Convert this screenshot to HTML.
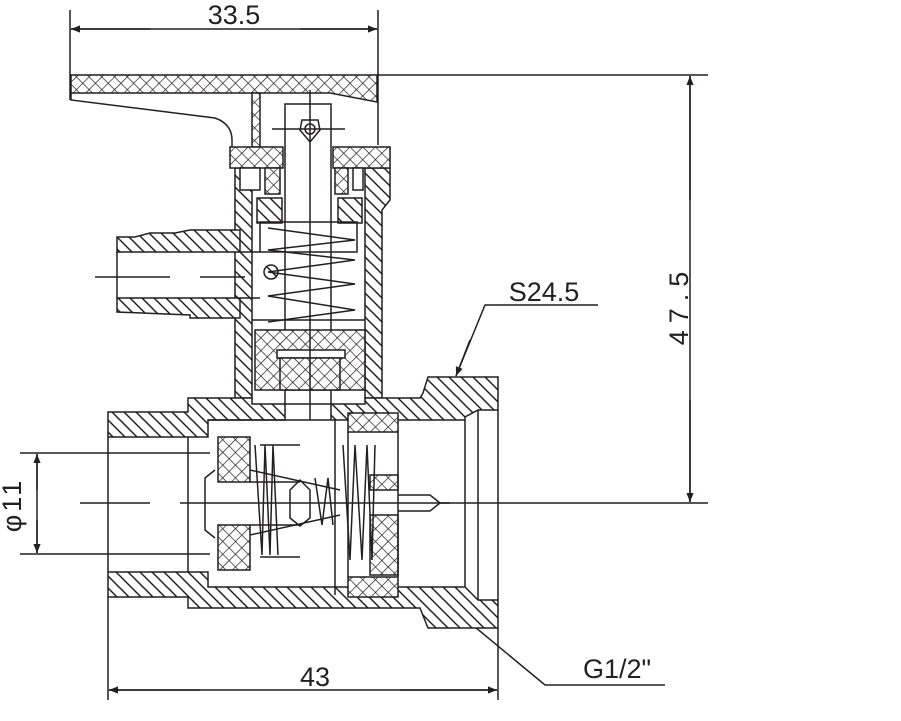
<!DOCTYPE html>
<html><head><meta charset="utf-8"><style>
html,body{margin:0;padding:0;background:#fff;}
svg{display:block;}
text{font-family:"Liberation Sans",sans-serif;fill:#231f20;}
</style></head><body>
<svg width="901" height="721" viewBox="0 0 901 721" xmlns="http://www.w3.org/2000/svg">
<defs>
<pattern id="h" width="12" height="12" patternUnits="userSpaceOnUse">
<rect width="12" height="12" fill="#fff"/><path d="M0,0 L12,12 M-6,6 L6,18 M6,-6 L18,6" stroke="#231f20" stroke-width="1.5"/></pattern>
<pattern id="x" width="9" height="9" patternUnits="userSpaceOnUse" patternTransform="rotate(45)">
<rect width="9" height="9" fill="#fff"/><line x1="0" y1="0" x2="0" y2="9" stroke="#231f20" stroke-width="1.4"/><line x1="0" y1="0" x2="9" y2="0" stroke="#231f20" stroke-width="1.4"/></pattern>
<marker id="a" viewBox="0 0 10 10" refX="10" refY="5" markerWidth="30" markerHeight="9" markerUnits="userSpaceOnUse" orient="auto"><path d="M0,1 L10,5 L0,9 Z" fill="#231f20"/></marker>
</defs>
<g stroke="#231f20" stroke-width="1.5" fill="none">
<line x1="70" y1="10" x2="70" y2="100"/>
<line x1="378" y1="10" x2="378" y2="145"/>
<line x1="150" y1="29" x2="71" y2="29" marker-end="url(#a)"/>
<line x1="300" y1="29" x2="377" y2="29" marker-end="url(#a)"/>
<line x1="71" y1="29" x2="377" y2="29"/>
<line x1="378" y1="75" x2="708" y2="75"/>
<line x1="440" y1="503" x2="708" y2="503"/>
<line x1="690" y1="200" x2="690" y2="76" marker-end="url(#a)"/>
<line x1="690" y1="400" x2="690" y2="502" marker-end="url(#a)"/>
<line x1="690" y1="76" x2="690" y2="502"/>
<line x1="20" y1="453" x2="210" y2="453"/>
<line x1="20" y1="554" x2="210" y2="554"/>
<line x1="37" y1="490" x2="37" y2="454" marker-end="url(#a)"/>
<line x1="37" y1="520" x2="37" y2="553" marker-end="url(#a)"/>
<line x1="37" y1="454" x2="37" y2="553"/>
<line x1="108" y1="597" x2="108" y2="700"/>
<line x1="498" y1="628" x2="498" y2="700"/>
<line x1="200" y1="690" x2="109" y2="690" marker-end="url(#a)"/>
<line x1="400" y1="690" x2="497" y2="690" marker-end="url(#a)"/>
<line x1="109" y1="690" x2="497" y2="690"/>
<polyline points="598,305 485,305 456,376"/>
<line x1="470" y1="340" x2="456" y2="376" marker-end="url(#a)"/>
<polyline points="665,685 545,685 440,598"/>
<line x1="470" y1="623" x2="440" y2="598" marker-end="url(#a)"/>

<path d="M71,75 L377,75 L377,102 L330,93 L71,93 Z" fill="url(#x)"/>
<path d="M71,93 L71,100 L215,118 Q232,124 232,140 L232,147"/>
<rect x="252" y="93" width="8" height="54" fill="url(#x)"/>
<rect x="285" y="104" width="46" height="300" fill="#fff"/>
<polygon points="302,120 318,120 320,130 310,142 300,130" />
<circle cx="310" cy="129" r="5"/>
<line x1="272" y1="129" x2="345" y2="129"/>
<path d="M235,168 L252,168 L252,398 L235,398 Z" fill="url(#h)"/>
<path d="M365,168 L390,168 L390,200 L382,210 L382,398 L365,398 Z" fill="url(#h)"/>
<rect x="230" y="147" width="53" height="21" fill="url(#x)"/>
<rect x="333" y="147" width="57" height="21" fill="url(#x)"/>
<rect x="240" y="168" width="20" height="22" fill="#fff"/>
<rect x="353" y="168" width="10" height="22" fill="#fff"/>
<rect x="265" y="168" width="15" height="26" fill="url(#x)"/>
<rect x="335" y="168" width="13" height="26" fill="url(#x)"/>
<rect x="257" y="198" width="25" height="25" fill="url(#h)"/>
<rect x="338" y="198" width="24" height="25" fill="url(#h)"/>
<path d="M117,237 L135,237 L150,233 L175,233 L190,230 L240,230 L240,252 L117,252 Z" fill="url(#h)"/>
<path d="M117,298 L240,298 L240,318 L190,318 L190,315 L117,312 Z" fill="url(#h)"/>
<line x1="117" y1="252" x2="117" y2="298"/>
<line x1="240" y1="252" x2="260" y2="252"/>
<line x1="240" y1="298" x2="260" y2="298"/>
<line x1="95" y1="277" x2="170" y2="277"/>
<line x1="200" y1="277" x2="245" y2="277"/>
<circle cx="271" cy="272" r="7" fill="url(#h)"/>
<rect x="260" y="222" width="97" height="30"/>
<polyline points="268,228 355,240 268,250 355,260 268,272 355,284 268,296 355,310 268,322"/>
<line x1="252" y1="320" x2="365" y2="320"/>
<rect x="255" y="330" width="110" height="60" fill="url(#x)"/>
<rect x="277" y="350" width="68" height="8" fill="#fff"/>
<rect x="280" y="358" width="60" height="32" fill="url(#x)"/>
<line x1="310" y1="90" x2="310" y2="420"/>

<path d="M108,412 L188,412 L188,398 L235,398 L235,398 L252,398 L252,404 L285,404 L285,420 L208,420 L208,437 L108,437 Z" fill="url(#h)"/>
<path d="M331,404 L365,404 L365,398 L420,398 L423,393 L428,377 L498,377 L498,410 L478,410 L465,417 L465,420 L208,420 L285,420 L331,420 Z" fill="url(#h)"/>
<path d="M108,572 L208,572 L208,587 L465,587 L478,600 L498,600 L498,628 L428,628 L420,608 L188,608 L188,597 L108,597 Z" fill="url(#h)"/>
<line x1="108" y1="437" x2="108" y2="572"/>
<line x1="188" y1="437" x2="188" y2="572"/>
<line x1="465" y1="420" x2="465" y2="587"/>
<line x1="478" y1="410" x2="478" y2="600"/>
<line x1="498" y1="410" x2="498" y2="600"/>
<line x1="335" y1="420" x2="335" y2="595"/>
<rect x="218" y="437" width="32" height="45" fill="url(#x)"/>
<rect x="218" y="525" width="32" height="45" fill="url(#x)"/>
<polyline points="215,470 205,478 205,530 215,538"/>
<line x1="250" y1="482" x2="300" y2="482"/>
<line x1="250" y1="525" x2="300" y2="525"/>
<rect x="348" y="413" width="50" height="19" fill="url(#x)"/>
<rect x="348" y="577" width="50" height="20" fill="url(#x)"/>
<rect x="370" y="475" width="28" height="15" fill="url(#x)"/>
<rect x="370" y="515" width="28" height="60" fill="url(#x)"/>
<line x1="348" y1="432" x2="348" y2="577"/>
<line x1="398" y1="432" x2="398" y2="577"/>
<polyline points="255,445 262,555 265,445 270,555 273,445 278,555"/>
<polyline points="343,445 350,560 355,445 362,560 367,445 372,560 375,445"/>
<polyline points="315,478 322,525 328,478 333,525"/>
<path d="M250,470 L340,490 M250,535 L340,515"/>
<path d="M290,490 L300,480 L310,490 L310,518 L300,526 L290,518 Z"/>
<path d="M398,495 L430,495 L440,503 L430,511 L398,511"/>
<line x1="260" y1="445" x2="300" y2="445"/>
<line x1="260" y1="557" x2="300" y2="557"/>
<line x1="80" y1="503" x2="150" y2="503"/>
<line x1="180" y1="503" x2="450" y2="503"/>
</g>
<text x="234" y="24" font-size="27" text-anchor="middle">33.5</text>
<text x="544" y="301" font-size="27" text-anchor="middle">S24.5</text>
<text x="617" y="678" font-size="27" text-anchor="middle">G1/2"</text>
<text x="315" y="686" font-size="27" text-anchor="middle">43</text>
<text transform="translate(688,305) rotate(-90)" font-size="27" text-anchor="middle" letter-spacing="7">47.5</text>
<text transform="translate(21,505) rotate(-90)" font-size="27" text-anchor="middle" letter-spacing="3">φ11</text>
</svg>
</body></html>
